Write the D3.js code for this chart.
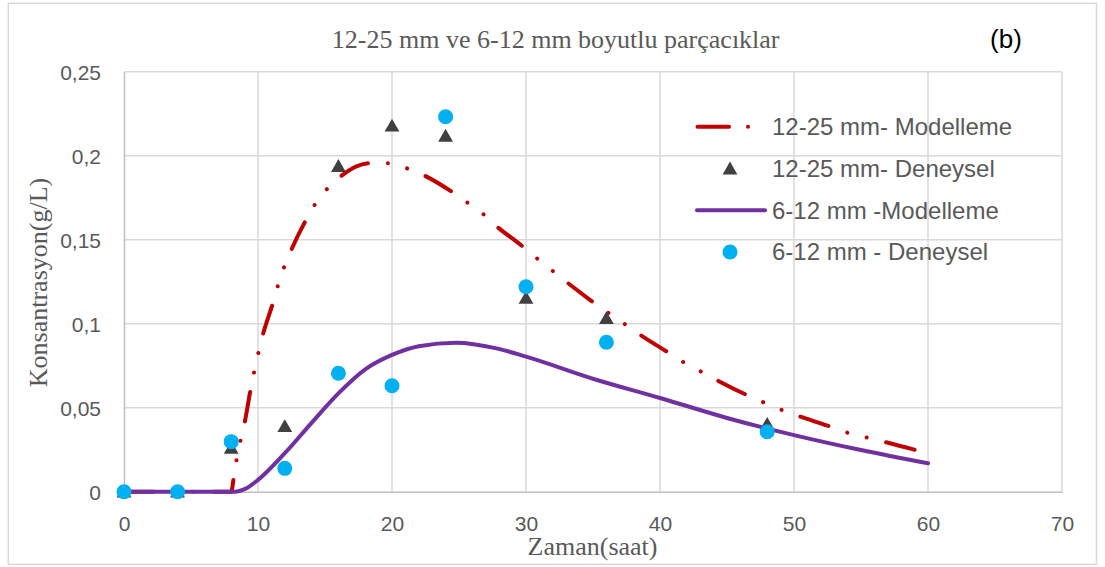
<!DOCTYPE html>
<html>
<head>
<meta charset="utf-8">
<script src="https://cdn.jsdelivr.net/npm/d3@7"></script>
<style>
  html, body { margin: 0; padding: 0; background: #fff; }
  svg { display: block; }
</style>
</head>
<body>
<svg id="chart" width="1105" height="567"></svg>
<script>
// ---- Data ----
const title = "12-25 mm ve 6-12 mm boyutlu parçacıklar";
const panelLabel = "(b)";
const xTitle = "Zaman(saat)";
const yTitle = "Konsantrasyon(g/L)";
const xTicks = [0, 10, 20, 30, 40, 50, 60, 70];
const yTicks = [0, 0.05, 0.1, 0.15, 0.2, 0.25];
const yTickLabels = ["0", "0,05", "0,1", "0,15", "0,2", "0,25"];
const seriesNames = ["12-25 mm- Modelleme", "12-25 mm- Deneysel", "6-12 mm -Modelleme", "6-12 mm - Deneysel"];

// Experimental points
const expTime = [0, 4, 8, 12, 16, 20, 24, 30, 36, 48];
const exp1225 = [0, 0, 0.026, 0.0389, 0.1938, 0.2178, 0.2118, 0.1153, 0.1032, 0.0403];
const exp612  = [0, 0, 0.0298, 0.0139, 0.0705, 0.0631, 0.2232, 0.122, 0.089, 0.0357];

// Model curves
const model1225Time = [0, 8, 8.2, 8.4, 8.7, 9, 9.45, 10.35, 11.14, 11.5, 11.95, 12.46, 13.58, 14.25, 15.13, 16.06, 18.35, 19.72, 21.1, 22.33, 24.45, 25.6, 26.77, 27.8, 29.75, 30.8, 31.9, 33.0, 34.98, 37.26, 38.4, 40.4, 41.6, 42.85, 44.1, 46.2, 47.5, 48.8, 50.1, 52.5, 53.76, 55.2, 56.5, 58.9, 60];
const model1225Val  = [0, 0, 0.009, 0.019, 0.031, 0.041, 0.061, 0.093, 0.113, 0.123, 0.1336, 0.1435, 0.1617, 0.171, 0.180, 0.187, 0.1955, 0.1955, 0.1925, 0.1885, 0.1786, 0.1722, 0.1655, 0.158, 0.146, 0.139, 0.132, 0.125, 0.113, 0.1004, 0.094, 0.0839, 0.0778, 0.0724, 0.067, 0.0586, 0.054, 0.0496, 0.0457, 0.0393, 0.0357, 0.0327, 0.0302, 0.0252, 0.0228];

const model612Time = [0, 4, 8.3, 9, 10, 12, 14, 16, 18, 20, 22, 24.8, 27.8, 30, 35.3, 40, 45, 50, 55, 60];
const model612Val  = [0, 0, 0, 0.0015, 0.007, 0.0229, 0.041, 0.0585, 0.0728, 0.0814, 0.0866, 0.0887, 0.0853, 0.0804, 0.0665, 0.0558, 0.0439, 0.0337, 0.0248, 0.0169];

// ---- Colors ----
const cRed = "#C00000", cPurple = "#7030A0", cTri = "#404040", cCircle = "#00B0F0";
const cGrid = "#d9d9d9", cAxis = "#bfbfbf", cText = "#595959";

const svg = d3.select("#chart");
const plot = { left: 124, right: 1062, top: 71.7, bottom: 491.7 };

const x = d3.scaleLinear().domain([0, 70]).range([plot.left, plot.right]);
const y = d3.scaleLinear().domain([0, 0.25]).range([plot.bottom, plot.top]);

// Outer border
svg.append("rect").attr("x", 8.3).attr("y", 3.3).attr("width", 1096.5 - 8.3).attr("height", 564.3 - 3.3)
  .attr("fill", "#fff").attr("stroke", cGrid).attr("stroke-width", 1.5);

// Gridlines
svg.append("g").selectAll("line").data(yTicks.filter(d => d > 0)).join("line")
  .attr("x1", plot.left).attr("x2", plot.right).attr("y1", d => y(d)).attr("y2", d => y(d))
  .attr("stroke", cGrid).attr("stroke-width", 1.5);
svg.append("g").selectAll("line").data(xTicks.filter(d => d > 0)).join("line")
  .attr("y1", plot.top).attr("y2", plot.bottom).attr("x1", d => x(d)).attr("x2", d => x(d))
  .attr("stroke", cGrid).attr("stroke-width", 1.5);

// Axes via d3 axis
const xAxis = d3.axisBottom(x).tickValues(xTicks).tickSize(0).tickPadding(17).tickFormat(d => String(d));
const gx = svg.append("g").attr("transform", `translate(0,${plot.bottom})`).call(xAxis);
gx.select(".domain").attr("stroke", cAxis).attr("stroke-width", 1.5);
gx.selectAll("text").attr("font-family", "'Liberation Sans', Arial, sans-serif").attr("font-size", 21).attr("fill", cText)
  .attr("dy", null).attr("y", 39);

const yAxis = d3.axisLeft(y).tickValues(yTicks).tickSize(0).tickPadding(23).tickFormat((d, i) => yTickLabels[i]);
const gy = svg.append("g").attr("transform", `translate(${plot.left},0)`).call(yAxis);
gy.select(".domain").attr("stroke", cAxis).attr("stroke-width", 1.5);
gy.selectAll("text").attr("font-family", "'Liberation Sans', Arial, sans-serif").attr("font-size", 21).attr("fill", cText)
  .attr("dy", "0.36em");

// Lines
const lineRed = d3.line().x(d => x(d[0])).y(d => y(d[1])).curve(d3.curveMonotoneX);
const linePurple = d3.line().x(d => x(d[0])).y(d => y(d[1])).curve(d3.curveMonotoneX);
const redPts = model1225Time.map((t, i) => [t, model1225Val[i]]);
const purplePts = model612Time.map((t, i) => [t, model612Val[i]]);

svg.append("path").datum(redPts).attr("d", lineRed).attr("fill", "none")
  .attr("stroke", cRed).attr("stroke-width", 4).attr("stroke-linecap", "round")
  .attr("stroke-dasharray", "29.5 20 0.01 20 0.01 20");

// Triangles
const tri = d3.symbol().type(d3.symbolTriangle).size(95);
svg.append("g").selectAll("path").data(expTime.map((t, i) => [t, exp1225[i]])).join("path")
  .attr("d", tri).attr("fill", cTri)
  .attr("transform", d => `translate(${x(d[0])},${y(d[1]) + 1.5})`);

svg.append("path").datum(purplePts).attr("d", linePurple).attr("fill", "none")
  .attr("stroke", cPurple).attr("stroke-width", 4).attr("stroke-linecap", "round");

// Circles
svg.append("g").selectAll("circle").data(expTime.map((t, i) => [t, exp612[i]])).join("circle")
  .attr("cx", d => x(d[0])).attr("cy", d => y(d[1])).attr("r", 7.5).attr("fill", cCircle);

// Titles
svg.append("text").attr("x", 555.7).attr("y", 48.3).attr("text-anchor", "middle")
  .attr("font-family", "'Liberation Serif', 'Times New Roman', serif").attr("font-size", 26).attr("fill", cText)
  .text(title);
svg.append("text").attr("x", 1006).attr("y", 48).attr("text-anchor", "middle")
  .attr("font-family", "'Liberation Sans', Arial, sans-serif").attr("font-size", 26).attr("fill", "#000")
  .text(panelLabel);
svg.append("text").attr("x", 592.5).attr("y", 555).attr("text-anchor", "middle")
  .attr("font-family", "'Liberation Serif', 'Times New Roman', serif").attr("font-size", 26).attr("fill", cText)
  .text(xTitle);
svg.append("text").attr("transform", "translate(46.7,282.5) rotate(-90)").attr("text-anchor", "middle")
  .attr("font-family", "'Liberation Serif', 'Times New Roman', serif").attr("font-size", 26).attr("fill", cText)
  .text(yTitle);

// Legend
const legY = [126.7, 168.6, 210.3, 252];
const leg = svg.append("g");
leg.selectAll("text").data(seriesNames).join("text")
  .attr("x", 772).attr("y", (d, i) => legY[i]).attr("dy", "0.35em")
  .attr("font-family", "'Liberation Sans', Arial, sans-serif").attr("font-size", 24).attr("fill", cText)
  .text(d => d);
leg.append("line").attr("x1", 697.5).attr("x2", 729).attr("y1", legY[0]).attr("y2", legY[0])
  .attr("stroke", cRed).attr("stroke-width", 4).attr("stroke-linecap", "round");
leg.append("circle").attr("cx", 748).attr("cy", legY[0]).attr("r", 2).attr("fill", cRed);
leg.append("path").attr("d", tri).attr("fill", cTri).attr("transform", `translate(730,${legY[1] + 1.5})`);
leg.append("line").attr("x1", 697).attr("x2", 765).attr("y1", legY[2]).attr("y2", legY[2])
  .attr("stroke", cPurple).attr("stroke-width", 4).attr("stroke-linecap", "round");
leg.append("circle").attr("cx", 730).attr("cy", legY[3]).attr("r", 7.5).attr("fill", cCircle);
</script>
</body>
</html>
